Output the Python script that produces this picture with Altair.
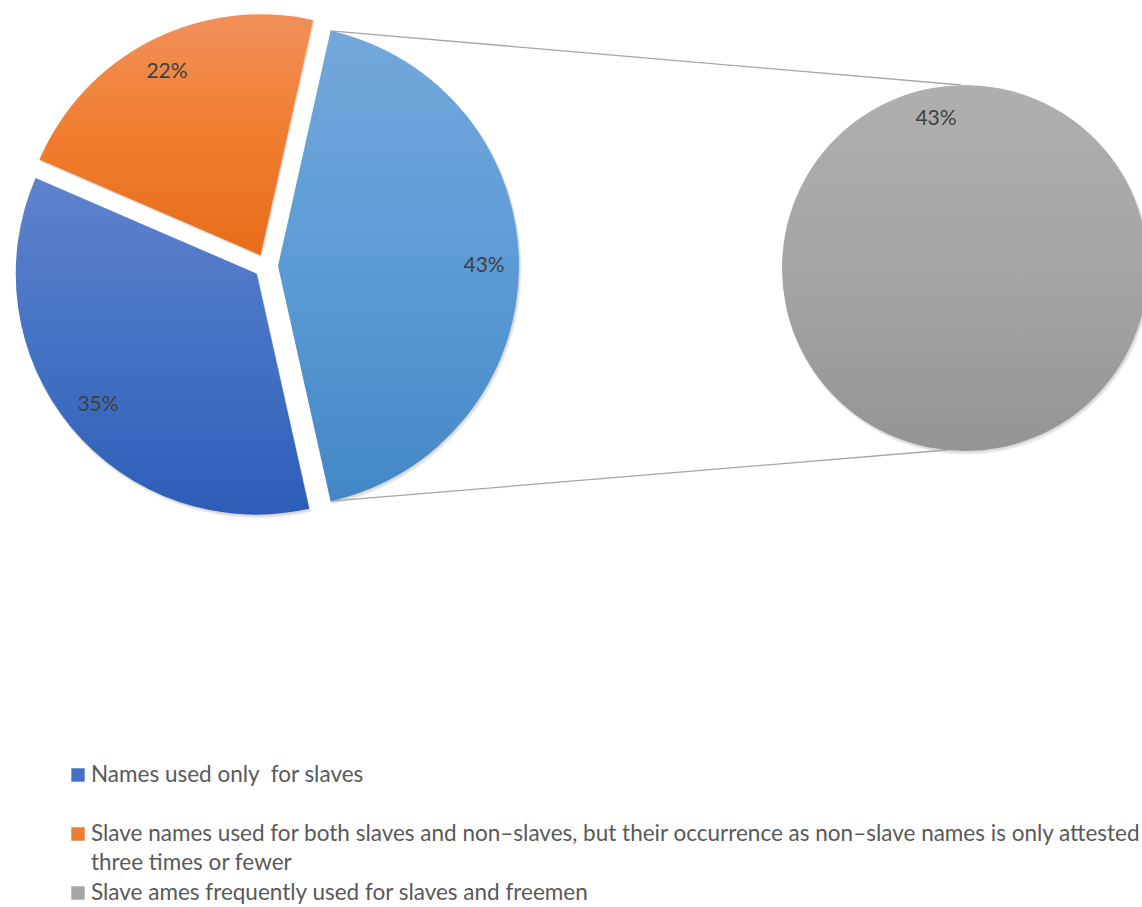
import math
import altair as alt
import pandas as pd

# ---------------- data ----------------
categories = [
    "Names used only\u00a0 for slaves",
    "Slave names used for both slaves and non\u2013slaves, but their occurrence as non\u2013slave names is only attested\nthree times or fewer",
    "Slave ames frequently used for slaves and freemen",
]
shares = [35, 22, 43]            # percent of names
split_index = 2                  # category moved into the secondary pie
primary_labels = ["43%", "35%", "22%"]   # Other, blue, orange (clockwise)
secondary_labels = ["43%"]
legend_colors = ["#4472C4", "#ED7D31", "#A5A5A5"]

# ---------------- layout ----------------
W, H = 1142, 907
CX, CY, R = 266, 266, 241
EXPLODE = 12
GX, GY, GR = 965, 268, 183
LABEL_RATIO = 0.855
GREY_LABEL_ANGLE = math.radians(349)
GREY_LABEL_RATIO = 0.83

gradients = {
    "other": ("#73A8DB", "#5B9BD5", "#4387C6"),
    "blue": ("#5F82CD", "#4472C4", "#2D5DB8"),
    "orange": ("#F1905A", "#F07E2E", "#E86C19"),
    "grey": ("#AFAFAF", "#A5A5A5", "#949494"),
}


def grad(key):
    a, b, c = gradients[key]
    return alt.Gradient(
        gradient="linear",
        stops=[alt.GradientStop(color=a, offset=0),
               alt.GradientStop(color=b, offset=0.5),
               alt.GradientStop(color=c, offset=1)],
        x1=0, x2=0, y1=0, y2=1,
    )


# primary pie: "Other" slice first, centred at 3 o'clock
other_frac = shares[split_index] / 100.0
order = [("other", shares[split_index]), ("blue", shares[0]), ("orange", shares[1])]
start = math.pi / 2 - other_frac * math.pi
rows = []
t = start
for (key, val), lab in zip(order, primary_labels):
    span = val / 100.0 * 2 * math.pi
    t0, t1 = t, t + span
    mid = (t0 + t1) / 2
    ox = CX + EXPLODE * math.sin(mid)
    oy = CY - EXPLODE * math.cos(mid)
    rows.append(dict(key=key, t0=t0, t1=t1, x=ox, y=oy,
                     lx=ox + LABEL_RATIO * R * math.sin(mid),
                     ly=oy - LABEL_RATIO * R * math.cos(mid),
                     label=lab))
    t = t1
slices = pd.DataFrame(rows)

grey = pd.DataFrame([dict(key="grey", t0=0.0, t1=2 * math.pi, x=GX, y=GY,
                          lx=GX + GREY_LABEL_RATIO * GR * math.sin(GREY_LABEL_ANGLE),
                          ly=GY - GREY_LABEL_RATIO * GR * math.cos(GREY_LABEL_ANGLE),
                          label=secondary_labels[0])])

# connector lines from the "Other" slice edge to the top/bottom of the grey pie
o = slices.iloc[0]
conn = pd.DataFrame([
    dict(x=o.x + R * math.sin(o.t0), y=o.y - R * math.cos(o.t0), x2=GX - 4, y2=GY - GR),
    dict(x=o.x + R * math.sin(o.t1), y=o.y - R * math.cos(o.t1), x2=GX - 18, y2=GY + GR - 1),
])

X = lambda f: alt.X(f, type="quantitative", scale=None, axis=None)
Y = lambda f: alt.Y(f, type="quantitative", scale=None, axis=None)


def arc_layer(df, key, radius, color, dx=0, dy=0, opacity=1.0):
    d = df[df.key == key].copy()
    d["x"] = d["x"] + dx
    d["y"] = d["y"] + dy
    return alt.Chart(d).mark_arc(radius=radius, color=color, opacity=opacity).encode(
        x=X("x"), y=Y("y"),
        theta=alt.Theta("t0:Q", scale=None, stack=False),
        theta2="t1:Q",
    )


layers = []
# soft shadows
for df, key, rad in [(slices, "other", R), (slices, "blue", R), (slices, "orange", R), (grey, "grey", GR)]:
    layers.append(arc_layer(df, key, rad + 1, "#000000", dx=1.5, dy=2.5, opacity=0.08))
    layers.append(arc_layer(df, key, rad + 0.5, "#000000", dx=0.8, dy=1.3, opacity=0.08))

layers.append(alt.Chart(conn).mark_rule(color="#A6A6A6", strokeWidth=1.3).encode(
    x=X("x"), y=Y("y"), x2="x2:Q", y2="y2:Q"))

for key in ["other", "blue", "orange"]:
    layers.append(arc_layer(slices, key, R, grad(key)))
layers.append(arc_layer(grey, "grey", GR, grad("grey")))

labels_df = pd.concat([slices, grey])
layers.append(alt.Chart(labels_df).mark_text(
    font="Lato", fontSize=21, color="#404040", align="center", baseline="middle").encode(
    x=X("lx"), y=Y("ly"), text="label:N"))

# legend
leg = pd.DataFrame(dict(name=categories, color=legend_colors,
                        y=[775, 834, 893], sx=[78] * 3, tx=[91] * 3))
layers.append(alt.Chart(leg).mark_square(size=180, opacity=1).encode(
    x=X("sx"), y=Y("y"), color=alt.Color("color:N", scale=None)))
layers.append(alt.Chart(leg).mark_text(
    font="Lato", fontSize=22.5, color="#595959", align="left", baseline="middle",
    lineBreak="\n", lineHeight=29).encode(
    x=X("tx"), y=Y("y"), text="name:N"))

chart = alt.layer(*layers).properties(
    width=W, height=H, padding=0,
    autosize=alt.AutoSizeParams(type="none"),
).configure(background="#FFFFFF").configure_view(stroke=None)

chart.save("out.html", embed_options={"renderer": "svg", "actions": False})
